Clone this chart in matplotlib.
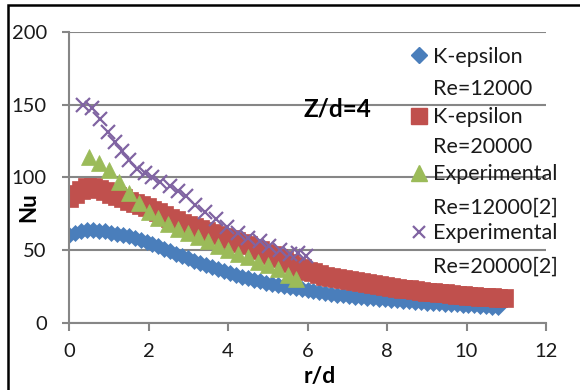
import numpy as np
import matplotlib
matplotlib.use("Agg")
import matplotlib.pyplot as plt
from matplotlib.lines import Line2D
from matplotlib.patches import Rectangle

plt.rcParams['font.family'] = ['Lato', 'DejaVu Sans']

# K-epsilon, Re=12000
r_ke12 = [0.0, 0.15, 0.3, 0.45, 0.6, 0.75, 0.9, 1.05, 1.2, 1.35,
          1.5, 1.65, 1.8, 1.95, 2.1, 2.25, 2.4, 2.55, 2.7, 2.85,
          3.0, 3.15, 3.3, 3.45, 3.6, 3.75, 3.9, 4.05, 4.2, 4.35,
          4.5, 4.65, 4.8, 4.95, 5.1, 5.25, 5.4, 5.55, 5.7, 5.85,
          6.0, 6.15, 6.3, 6.45, 6.6, 6.75, 6.9, 7.05, 7.2, 7.35,
          7.5, 7.65, 7.8, 7.95, 8.1, 8.25, 8.4, 8.55, 8.7, 8.85,
          9.0, 9.15, 9.3, 9.45, 9.6, 9.75, 9.9, 10.05, 10.2, 10.35,
          10.5, 10.65, 10.8]
nu_ke12 = [60, 61.5, 63, 63.5, 63.5, 63.2, 62.7, 62, 61.2, 60.3,
           59.3, 58.2, 56.9, 55.5, 54, 52.4, 50.8, 49.2, 47.5, 45.8,
           44.2, 42.6, 41, 39.5, 38, 36.6, 35.2, 33.9, 32.7, 31.5,
           30.4, 29.4, 28.4, 27.5, 26.6, 25.8, 25, 24.2, 23.5, 22.8,
           22.1, 21.5, 20.9, 20.3, 19.8, 19.3, 18.8, 18.3, 17.9, 17.5,
           17.1, 16.7, 16.3, 16.0, 15.6, 15.3, 15.0, 14.7, 14.4, 14.1,
           13.8, 13.5, 13.3, 13.0, 12.8, 12.6, 12.4, 12.1, 11.8, 11.5,
           11.2, 10.9, 10.6]

# K-epsilon, Re=20000
r_ke20 = [0.0, 0.15, 0.3, 0.45, 0.6, 0.75, 0.9, 1.05, 1.2, 1.35,
          1.5, 1.65, 1.8, 1.95, 2.1, 2.25, 2.4, 2.55, 2.7, 2.85,
          3.0, 3.15, 3.3, 3.45, 3.6, 3.75, 3.9, 4.05, 4.2, 4.35,
          4.5, 4.65, 4.8, 4.95, 5.1, 5.25, 5.4, 5.55, 5.7, 5.85,
          6.0, 6.15, 6.3, 6.45, 6.6, 6.75, 6.9, 7.05, 7.2, 7.35,
          7.5, 7.65, 7.8, 7.95, 8.1, 8.25, 8.4, 8.55, 8.7, 8.85,
          9.0, 9.15, 9.3, 9.45, 9.6, 9.75, 9.9, 10.05, 10.2, 10.35,
          10.5, 10.65, 10.8, 10.95]
nu_ke20 = [85.5, 88.5, 91.5, 93, 93, 92, 90.5, 88.8, 87.2, 85.6,
           84, 82.5, 81, 79.5, 77.8, 76, 74.2, 72.3, 70.4, 68.6,
           67, 65.6, 64.2, 62.9, 61.6, 60.3, 59, 57.7, 56.2, 54.7,
           53.1, 51.5, 49.8, 48.1, 46.4, 44.6, 42.8, 40.9, 39, 37.3,
           35.8, 34.5, 33.4, 32.4, 31.5, 30.6, 29.8, 29.0, 28.3, 27.6,
           27.0, 26.4, 25.8, 25.2, 24.6, 24.0, 23.4, 22.9, 22.4, 21.9,
           21.4, 20.9, 20.5, 20.1, 19.7, 19.3, 18.9, 18.5, 18.2, 17.9,
           17.6, 17.3, 17.0, 16.7]

# Experimental, Re=12000 [2]
r_ex12 = [0.5, 0.75, 1.0, 1.25, 1.5, 1.75, 2.0, 2.25, 2.5, 2.75, 3.0,
          3.25, 3.5, 3.75, 4.0, 4.25, 4.5, 4.75, 5.0, 5.25, 5.5, 5.7]
nu_ex12 = [114, 110, 105, 97, 89, 82, 76, 72, 68, 64.5, 62,
           59, 56, 53, 50, 47.5, 45, 42, 39.5, 37, 33, 30]

# Experimental, Re=20000 [2]
r_ex20 = [0.36, 0.57, 0.78, 0.99, 1.16, 1.33, 1.5, 1.7, 1.9, 2.1, 2.3, 2.54, 2.75,
          2.95, 3.17, 3.42, 3.71, 3.97, 4.26, 4.51, 4.81, 5.02, 5.3, 5.55, 5.75, 5.95]
nu_ex20 = [150, 148, 140, 131, 124, 118, 112, 106, 103, 100, 97, 94, 90.5,
           87, 81, 76, 71, 66, 62, 58.5, 56, 53, 50, 47, 48, 46]

labels = [('K-epsilon', 'Re=12000'), ('K-epsilon', 'Re=20000'),
          ('Experimental', 'Re=12000[2]'), ('Experimental', 'Re=20000[2]')]

blue, red, green, purple = '#4A7EBB', '#C0504D', '#9BBB59', '#8064A2'
grey = '#868686'
txt = '#1a1a1a'

W, H = 580, 390
fig = plt.figure(figsize=(5.8, 3.9), dpi=100)
ax = fig.add_axes([69 / W, 1 - 322.6 / H, (546 - 69) / W, (322.6 - 32) / H])

ax.plot(r_ke12, nu_ke12, ls='none', marker='D', ms=8, color=blue, mec=blue, mew=0.5)
ax.plot(r_ke20, nu_ke20, ls='none', marker='s', ms=13, color=red, mec=red, mew=0.5)
ax.plot(r_ex12, nu_ex12, ls='none', marker='^', ms=11.5, color=green, mec=green, mew=0.5)
ax.plot(r_ex20, nu_ex20, ls='none', marker='x', ms=10, mec=purple, mew=1.6)

ax.set_xlim(0, 12)
ax.set_ylim(0, 200)
ax.set_xticks(np.arange(0, 13, 2))
ax.set_yticks(np.arange(0, 201, 50))
ax.grid(axis='y', color=grey, lw=1.5)
ax.set_axisbelow(True)
for s in ['top', 'right']:
    ax.spines[s].set_visible(False)
for s in ['left', 'bottom']:
    ax.spines[s].set_color(grey)
    ax.spines[s].set_linewidth(1.5)
ax.tick_params(axis='y', direction='out', length=5, width=1.5, color=grey,
               labelsize=14.5, pad=11, labelcolor=txt)
ax.tick_params(axis='x', direction='out', length=6, width=1.5, color=grey,
               labelsize=14.5, pad=9, labelcolor=txt)

# axis titles
fig.text(29 / W, 1 - 207 / H, 'Nu', rotation=90, fontsize=16, fontweight='bold',
         ha='center', va='center')
fig.text(320 / W, 1 - 377 / H, 'r/d', fontsize=16.5, fontweight='bold',
         ha='center', va='center')
fig.text(304 / W, 1 - 116.7 / H, 'Z/d=4', fontsize=17.5, fontweight='bold',
         ha='left', va='baseline')

# legend (two-line entries, marker beside the first line)
bases = [(62.7, 95), (123.3, 153.3), (180, 213.3), (239.3, 272.7)]
mk = [dict(marker='D', ms=8, color=blue, mec=blue),
      dict(marker='s', ms=11, color=red, mec=red),
      dict(marker='^', ms=11.5, color=green, mec=green),
      dict(marker='x', ms=8, mec=purple, mew=1.6)]
for (l1, l2), (b1, b2), m in zip(labels, bases, mk):
    fig.text(433 / W, 1 - b1 / H, l1, fontsize=15.5, ha='left', va='baseline', color=txt)
    fig.text(433 / W, 1 - b2 / H, l2, fontsize=15.5, ha='left', va='baseline', color=txt)
    fig.add_artist(Line2D([419 / W], [1 - (b1 - 7.5) / H], ls='none',
                          transform=fig.transFigure, **m))

# chart border
fig.add_artist(Rectangle((8 / W, -0.1), 1.2, 1.1 - 5.5 / H, transform=fig.transFigure,
                         fill=False, edgecolor='black', lw=1.8))

fig.savefig('out.png', dpi=100)
